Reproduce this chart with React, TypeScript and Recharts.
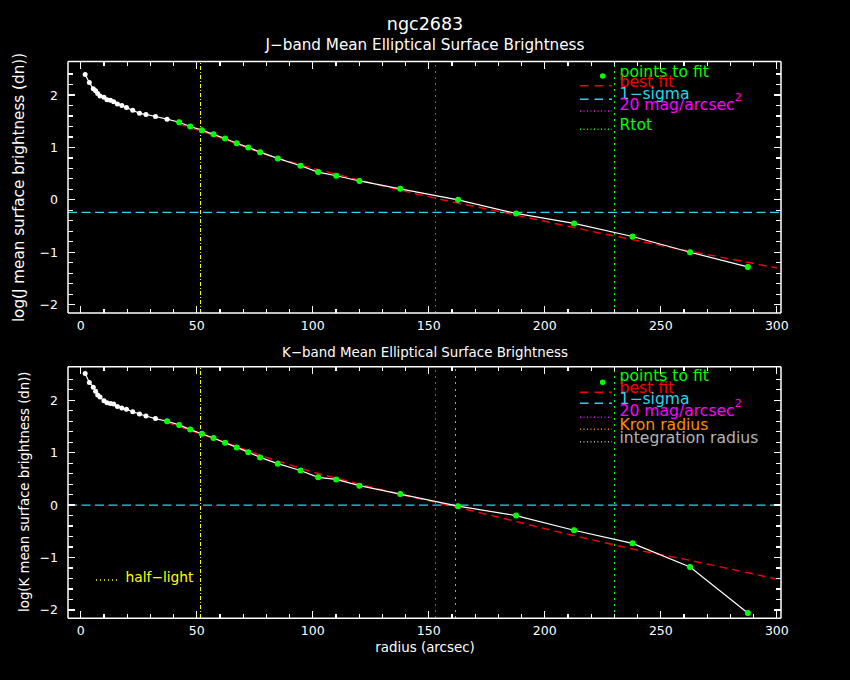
import { ComposedChart, Line, XAxis, YAxis, ReferenceLine } from "recharts";

// radii of the elliptical apertures (arcsec), shared by both bands
const RADIUS = [
  1.9, 3.7, 5.4, 6.4, 7.3, 8.3, 10.0, 11.3, 12.8, 14.2, 15.8, 17.7, 19.7, 22.4, 25.3, 28.1, 32.2,
  37.2, 42.4, 47.2, 52.2, 57.2, 62.2, 67.2, 72.2, 77.3, 84.9, 94.7, 102.3, 110.1, 120.1, 137.7,
  162.6, 187.6, 212.6, 237.8, 262.6, 287.5,
];

const J_SB = [
  2.39, 2.24, 2.12, 2.08, 2.03, 1.98, 1.96, 1.91, 1.9, 1.87, 1.83, 1.8, 1.76, 1.71, 1.65, 1.63, 1.59,
  1.54, 1.48, 1.4, 1.33, 1.25, 1.17, 1.08, 1.0, 0.91, 0.79, 0.65, 0.53, 0.46, 0.36, 0.21,
  0.0, -0.26, -0.45, -0.7, -1.0, -1.28,
];

const K_SB = [
  2.51, 2.34, 2.25, 2.17, 2.1, 2.06, 1.99, 1.95, 1.94, 1.93, 1.88, 1.85, 1.83, 1.78, 1.74, 1.7, 1.65,
  1.6, 1.53, 1.44, 1.36, 1.28, 1.19, 1.1, 1.01, 0.91, 0.79, 0.66, 0.53, 0.49, 0.37, 0.21,
  -0.02, -0.2, -0.48, -0.73, -1.18, -2.06,
];

// first radius used in each fit
const J_FIT_FROM = 42.4;
const K_FIT_FROM = 37.2;

// best-fit curves
const J_MODEL_R = [42, 60, 80, 100, 120, 140, 160, 180, 200, 220, 240, 260, 280, 300];
const J_MODEL = [1.45, 1.19, 0.86, 0.6, 0.38, 0.16, -0.04, -0.22, -0.41, -0.6, -0.78, -0.96, -1.13, -1.3];
const K_MODEL_R = [37, 60, 80, 100, 120, 140, 160, 180, 200, 220, 240, 260, 280, 300];
const K_MODEL = [1.58, 1.23, 0.91, 0.63, 0.4, 0.18, -0.02, -0.23, -0.45, -0.66, -0.86, -1.03, -1.22, -1.41];

const J_SIGMA = -0.24;
const K_SIGMA = 0;
const HALF_LIGHT = 51.4;
const MAG20 = 153;
const KRON = 161.3;
const RTOT = 230;

const X_TICKS = [
  0, 10, 20, 30, 40, 50, 60, 70, 80, 90, 100, 110, 120, 130, 140, 150, 160, 170, 180, 190, 200,
  210, 220, 230, 240, 250, 260, 270, 280, 290, 300,
];
const Y_TICKS = [
  -2, -1.8, -1.6, -1.4, -1.2, -1, -0.8, -0.6, -0.4, -0.2, 0, 0.2, 0.4, 0.6, 0.8, 1, 1.2, 1.4, 1.6,
  1.8, 2, 2.2, 2.4,
];

const X_DOMAIN: [number, number] = [-5.5, 301.8];
const Y_DOMAIN: [number, number] = [-2.16, 2.64];

const FONT = "DejaVu Sans";
const GREEN = "#00ff00";
const CYAN = "#22d8ec";
const MAGENTA = "#ff00ff";
const ORANGE = "#ff8c00";
const YELLOW = "#ffff00";

type Row = { r: number; sb: number };
const toRows = (rs: number[], vs: number[]): Row[] => rs.map((r, i) => ({ r, sb: vs[i] }));

const fmt = (v: number) => (v < 0 ? `\u2212${Math.abs(v)}` : String(v));

function XTick(props: any) {
  const { x, y, payload, side, labels } = props;
  const v = payload.value as number;
  const major = v % 50 === 0;
  const dir = side === "top" ? 1 : -1;
  return (
    <g>
      <line x1={x} x2={x} y1={y} y2={y + dir * (major ? 7 : 4)} stroke="#fff" strokeWidth={1.2} shapeRendering="crispEdges" />
      {labels && major ? (
        <text x={x} y={y + 17} textAnchor="middle" fill="#fff" fontSize={12.5} fontFamily={FONT}>
          {fmt(v)}
        </text>
      ) : null}
    </g>
  );
}

function YTick(props: any) {
  const { x, y, payload, side, labels } = props;
  const v = payload.value as number;
  const major = Math.abs(v - Math.round(v)) < 1e-6;
  const dir = side === "left" ? 1 : -1;
  return (
    <g>
      <line x1={x} x2={x + dir * (major ? 7 : 5)} y1={y} y2={y} stroke="#fff" strokeWidth={1.2} shapeRendering="crispEdges" />
      {labels && major ? (
        <text x={x - 10} y={y + 4.5} textAnchor="end" fill="#fff" fontSize={12.5} fontFamily={FONT}>
          {fmt(Math.round(v))}
        </text>
      ) : null}
    </g>
  );
}

type PanelProps = {
  sb: number[];
  fitFrom: number;
  modelR: number[];
  model: number[];
  sigma: number;
  kron?: number;
  top: number;
  marginTop: number;
  marginBottom: number;
};

function Panel({ sb, fitFrom, modelR, model, sigma, kron, top, marginTop, marginBottom }: PanelProps) {
  const all = toRows(RADIUS, sb);
  const fit = all.filter((d) => d.r >= fitFrom);
  const curve = toRows(modelR, model);
  const axisLine = { stroke: "#fff", strokeWidth: 1.5 };
  const vline = { strokeWidth: 1, shapeRendering: "crispEdges" as const };

  return (
    <div style={{ position: "absolute", left: 0, top }}>
      <ComposedChart
        width={850}
        height={340}
        margin={{ top: marginTop, right: 68, bottom: marginBottom, left: 8 }}
      >
        <XAxis
          xAxisId="b"
          dataKey="r"
          type="number"
          domain={X_DOMAIN}
          allowDataOverflow
          ticks={X_TICKS}
          interval={0}
          tickSize={0}
          tickMargin={0}
          tickLine={false}
          axisLine={axisLine}
          height={27}
          tick={(p: any) => <XTick {...p} side="bottom" labels />}
        />
        <XAxis
          xAxisId="t"
          orientation="top"
          dataKey="r"
          type="number"
          domain={X_DOMAIN}
          allowDataOverflow
          ticks={X_TICKS}
          interval={0}
          tickSize={0}
          tickMargin={0}
          tickLine={false}
          axisLine={axisLine}
          height={1}
          tick={(p: any) => <XTick {...p} side="top" />}
        />
        <YAxis
          yAxisId="l"
          type="number"
          domain={Y_DOMAIN}
          allowDataOverflow
          ticks={Y_TICKS}
          interval={0}
          tickSize={0}
          tickMargin={0}
          tickLine={false}
          axisLine={axisLine}
          width={60}
          tick={(p: any) => <YTick {...p} side="left" labels />}
        />
        <YAxis
          yAxisId="r"
          orientation="right"
          type="number"
          domain={Y_DOMAIN}
          allowDataOverflow
          ticks={Y_TICKS}
          interval={0}
          tickSize={0}
          tickMargin={0}
          tickLine={false}
          axisLine={axisLine}
          width={1}
          tick={(p: any) => <YTick {...p} side="right" />}
        />

        <ReferenceLine xAxisId="b" yAxisId="l" y={sigma} stroke={CYAN} strokeDasharray="9 4.5" strokeWidth={1.4} />
        <ReferenceLine xAxisId="b" yAxisId="l" x={HALF_LIGHT} stroke={YELLOW} strokeDasharray="4 2 1 2" {...vline} />
        <ReferenceLine xAxisId="b" yAxisId="l" x={MAG20} stroke={MAGENTA} strokeDasharray="2 4" {...vline} />
        {kron !== undefined ? (
          <ReferenceLine xAxisId="b" yAxisId="l" x={kron} stroke={ORANGE} strokeDasharray="2 4.5" {...vline} />
        ) : null}
        <ReferenceLine xAxisId="b" yAxisId="l" x={RTOT} stroke={GREEN} strokeDasharray="2 4" {...vline} />

        <Line
          xAxisId="b"
          yAxisId="l"
          data={curve}
          dataKey="sb"
          stroke="#ff0000"
          strokeWidth={1.4}
          strokeDasharray="8 5"
          dot={false}
          isAnimationActive={false}
        />
        <Line
          xAxisId="b"
          yAxisId="l"
          data={all}
          dataKey="sb"
          stroke="#ffffff"
          strokeWidth={1.2}
          dot={{ r: 2.5, fill: "#ffffff", stroke: "none" }}
          isAnimationActive={false}
        />
        <Line
          xAxisId="b"
          yAxisId="l"
          data={fit}
          dataKey="sb"
          stroke="none"
          dot={{ r: 3, fill: GREEN, stroke: "none" }}
          isAnimationActive={false}
        />
      </ComposedChart>
    </div>
  );
}

function LegendRow({ y, ty, color, dash, text, sup }: { y: number; ty: number; color: string; dash: string; text: string; sup?: string }) {
  return (
    <g>
      <line x1={580} x2={612} y1={y} y2={y} stroke={color} strokeWidth={1.4} strokeDasharray={dash} />
      <text x={619.5} y={ty} fill={color} fontSize={15.6} fontFamily={FONT}>
        {text}
        {sup ? (
          <tspan dy={-9} fontSize={11}>
            {sup}
          </tspan>
        ) : null}
      </text>
    </g>
  );
}

export default function App() {
  return (
    <div
      style={{
        position: "absolute",
        left: 0,
        top: 0,
        width: 850,
        height: 680,
        background: "#000",
        overflow: "hidden",
        fontFamily: FONT,
      }}
    >
      <Panel
        sb={J_SB}
        fitFrom={J_FIT_FROM}
        modelR={J_MODEL_R}
        model={J_MODEL}
        sigma={J_SIGMA}
        top={0}
        marginTop={60.5}
        marginBottom={0}
      />
      <Panel
        sb={K_SB}
        fitFrom={K_FIT_FROM}
        modelR={K_MODEL_R}
        model={K_MODEL}
        sigma={K_SIGMA}
        kron={KRON}
        top={340}
        marginTop={25.7}
        marginBottom={34.7}
      />

      <svg width={850} height={680} style={{ position: "absolute", left: 0, top: 0, pointerEvents: "none" }}>
        <text x={425} y={30} textAnchor="middle" fill="#fff" fontSize={17.5} fontFamily={FONT}>
          ngc2683
        </text>
        <text x={425} y={50} textAnchor="middle" fill="#fff" fontSize={15.2} fontFamily={FONT}>
          J−band Mean Elliptical Surface Brightness
        </text>
        <text x={425} y={357} textAnchor="middle" fill="#fff" fontSize={13.4} fontFamily={FONT}>
          K−band Mean Elliptical Surface Brightness
        </text>
        <text x={425} y={652} textAnchor="middle" fill="#fff" fontSize={13.4} fontFamily={FONT}>
          radius (arcsec)
        </text>
        <text
          transform="translate(24,187.5) rotate(-90)"
          textAnchor="middle"
          fill="#fff"
          fontSize={15.2}
          fontFamily={FONT}
        >
          log(J mean surface brightness (dn))
        </text>
        <text
          transform="translate(29,491.7) rotate(-90)"
          textAnchor="middle"
          fill="#fff"
          fontSize={13.3}
          fontFamily={FONT}
        >
          log(K mean surface brightness (dn))
        </text>

        {/* J legend */}
        <circle cx={602.7} cy={76} r={2.8} fill={GREEN} />
        <text x={619.5} y={77} fill={GREEN} fontSize={15.6} fontFamily={FONT}>
          points to fit
        </text>
        <LegendRow y={85.7} ty={87} color="#ff0000" dash="8.5 6" text="best fit" />
        <LegendRow y={99.3} ty={98.5} color={CYAN} dash="8.5 6" text="1−sigma" />
        <LegendRow y={111} ty={110} color={MAGENTA} dash="1 2.5" text="20 mag/arcsec" sup="2" />
        <LegendRow y={129.3} ty={130} color={GREEN} dash="1 2.5" text="Rtot" />

        {/* K legend */}
        <circle cx={602.7} cy={382.3} r={2.8} fill={GREEN} />
        <text x={619.5} y={381} fill={GREEN} fontSize={15.6} fontFamily={FONT}>
          points to fit
        </text>
        <LegendRow y={392.3} ty={393} color="#ff0000" dash="8.5 6" text="best fit" />
        <LegendRow y={403.3} ty={404} color={CYAN} dash="8.5 6" text="1−sigma" />
        <LegendRow y={417.3} ty={416} color={MAGENTA} dash="1 2.5" text="20 mag/arcsec" sup="2" />
        <LegendRow y={429.3} ty={430} color={ORANGE} dash="1 2.5" text="Kron radius" />
        <LegendRow y={441.7} ty={443} color="#b4b4b4" dash="1 2.5" text="integration radius" />

        {/* half-light key */}
        <line x1={96} x2={117} y1={580} y2={580} stroke={YELLOW} strokeWidth={1.3} strokeDasharray="1 3" />
        <text x={125.5} y={581.5} fill={YELLOW} fontSize={13.8} fontFamily={FONT}>
          half−light
        </text>
      </svg>
    </div>
  );
}
